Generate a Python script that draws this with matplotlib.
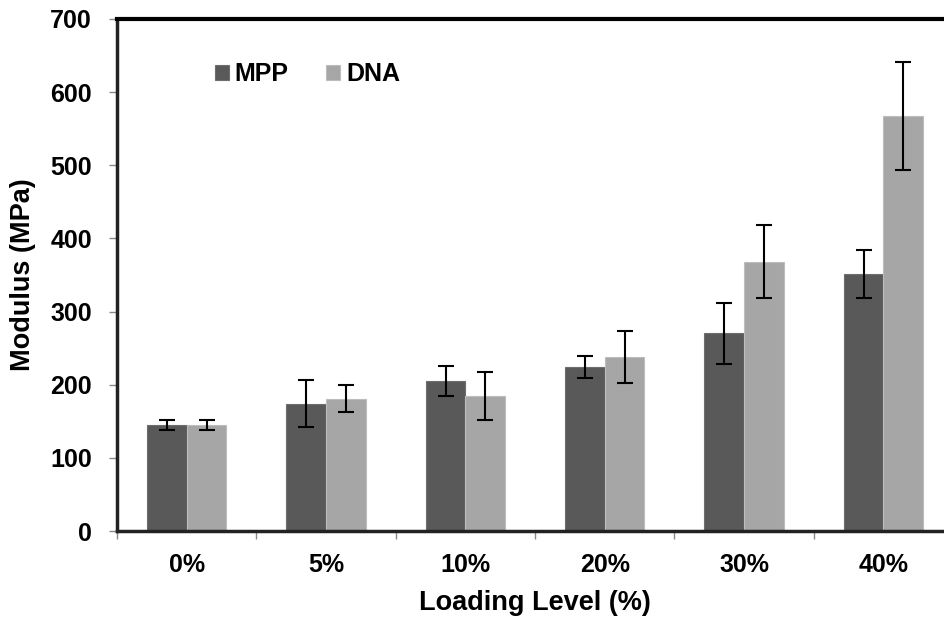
import numpy as np
import matplotlib.pyplot as plt

plt.rcParams['font.family'] = ['Liberation Sans', 'DejaVu Sans']
plt.rcParams['font.weight'] = 'bold'

# valores
niveis = ['0%', '5%', '10%', '20%', '30%', '40%']
mpp = [145, 174, 205, 224, 270, 351]
mpp_err = [7, 32, 21, 15, 42, 33]
dna = [145, 181, 185, 238, 368, 567]
dna_err = [7, 18, 33, 35, 50, 74]

fig = plt.figure(figsize=(9.44, 6.2), dpi=100)
ax = fig.add_axes([0.124, 0.1435, 0.8856, 0.826])

x = np.arange(len(niveis))
w = 0.284
err_kw = dict(ecolor='black', elinewidth=1.5, capsize=6, capthick=1.5)

ax.bar(x - w / 2, mpp, w, yerr=mpp_err, color='#595959', edgecolor='#6e6e6e',
       linewidth=0.8, label='MPP', error_kw=err_kw, zorder=2)
ax.bar(x + w / 2, dna, w, yerr=dna_err, color='#a6a6a6', edgecolor='#bdbdbd',
       linewidth=0.8, label='DNA', error_kw=err_kw, zorder=2)

ax.set_xlim(-0.5, len(niveis) - 0.5)
ax.set_ylim(0, 700)
ax.set_yticks(range(0, 701, 100))

# rotulos no centro, marcas entre grupos
ax.set_xticks(x)
ax.set_xticklabels(niveis)
ax.set_xticks(np.arange(-0.5, len(niveis), 1), minor=True)
ax.tick_params(axis='x', which='major', length=0, pad=16, labelsize=18)
ax.tick_params(axis='x', which='minor', length=6, color='#888888', width=1)
ax.tick_params(axis='y', length=6, color='#888888', width=1, pad=12, labelsize=18)

for s in ['left', 'bottom']:
    ax.spines[s].set_linewidth(2.5)
    ax.spines[s].set_color('#222222')
ax.spines['top'].set_linewidth(3)
ax.spines['top'].set_color('black')
ax.spines['right'].set_visible(False)

ax.set_xlabel('Loading Level (%)', fontsize=19.5, fontweight='bold', labelpad=9)
ax.set_ylabel('Modulus (MPa)', fontsize=19.5, fontweight='bold', labelpad=10)

ax.legend(loc='center left', bbox_to_anchor=(0.117, 0.8926), ncol=2, frameon=False,
          fontsize=18, handlelength=0.55, handleheight=0.55, handletextpad=0.25,
          columnspacing=1.5, borderpad=0, borderaxespad=0)

fig.savefig('out.png', dpi=100)
